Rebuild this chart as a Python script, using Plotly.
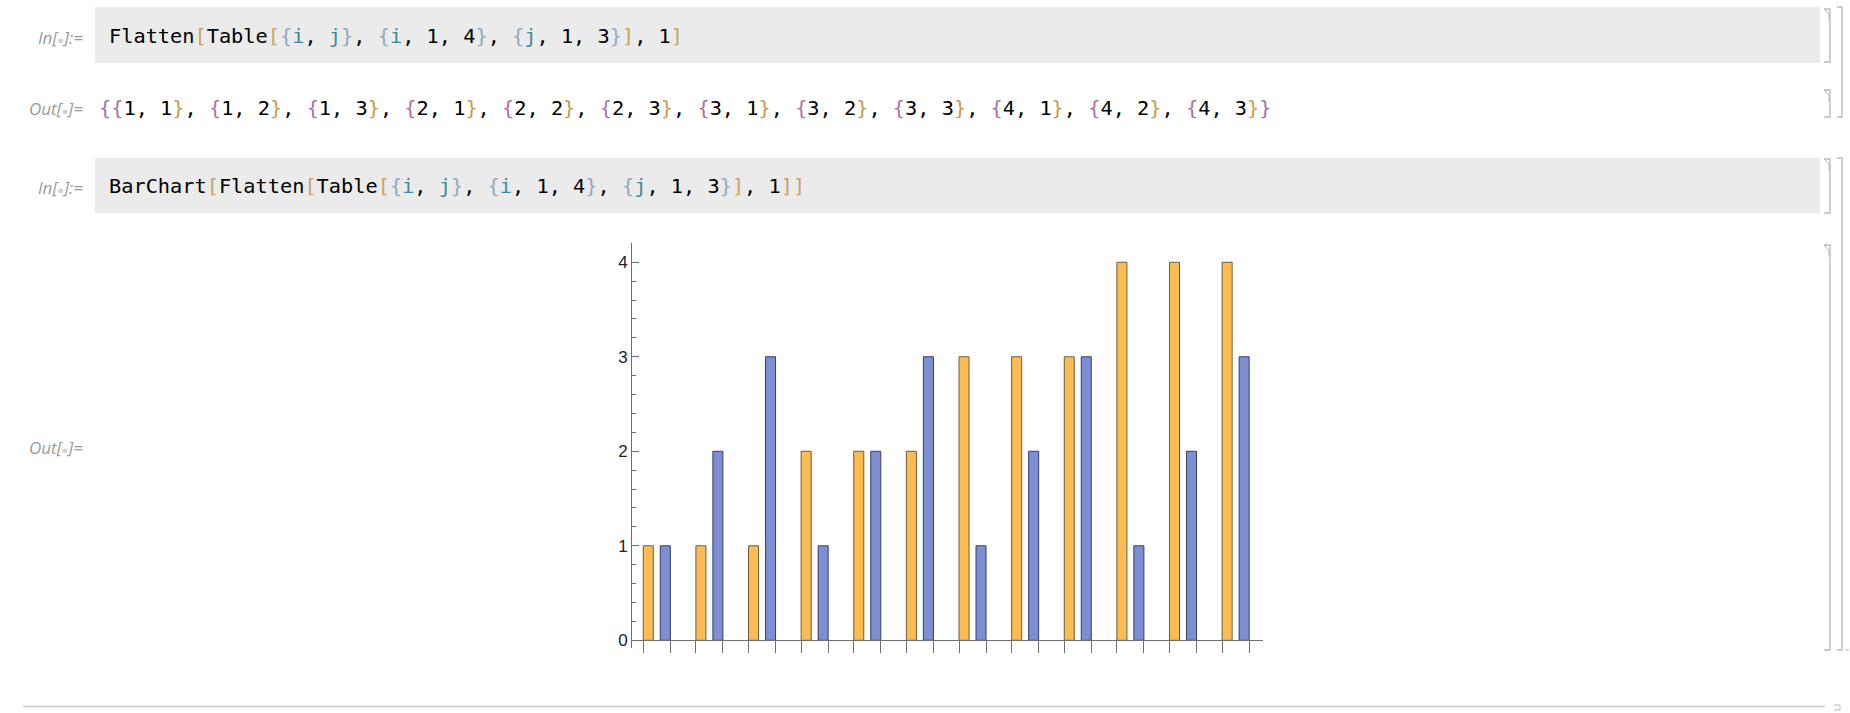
import plotly.graph_objects as go

# ---------------- data ----------------
groups = list(range(1, 13))
i_vals = [1, 1, 1, 2, 2, 2, 3, 3, 3, 4, 4, 4]
j_vals = [1, 2, 3, 1, 2, 3, 1, 2, 3, 1, 2, 3]
y_tick_vals = [0, 1, 2, 3, 4]
y_tick_text = ["0", "1", "2", "3", "4"]

# ---------------- style ----------------
W, H = 1850, 713
L, R, T, B = 631, 1850 - 1263, 243, 713 - 648
PW, PH = W - L - R, H - T - B

ORANGE = "rgb(252,188,84)"
ORANGE_EDGE = "rgb(112,92,58)"
BLUE = "rgb(126,142,210)"
BLUE_EDGE = "rgb(52,62,112)"
AXIS = "#6e6e6e"

BARGAP = 0.354
BARGROUPGAP = 0.41

slot = (1 - BARGAP) / 2
half_span = slot * 2 / 2 - slot * BARGROUPGAP / 2
x_ticks = []
for g in groups:
    x_ticks += [g - half_span, g + half_span]

y_lo, y_hi = -0.0815, 4.204
x_axis_pos = (0 - y_lo) / (y_hi - y_lo)


def px(x):
    return (x - L) / PW


def py(y):
    return (H - B - y) / PH


fig = go.Figure()
fig.add_trace(go.Bar(x=groups, y=i_vals, marker=dict(color=ORANGE, line=dict(color=ORANGE_EDGE, width=1)),
                     hoverinfo="skip", showlegend=False))
fig.add_trace(go.Bar(x=groups, y=j_vals, marker=dict(color=BLUE, line=dict(color=BLUE_EDGE, width=1)),
                     hoverinfo="skip", showlegend=False))

shapes = []
# gray input cell backgrounds
for (y0, y1) in [(7, 63), (158, 213)]:
    shapes.append(dict(type="rect", xref="paper", yref="paper", x0=px(95), x1=px(1820), y0=py(y1), y1=py(y0),
                       fillcolor="#ebebeb", line=dict(width=0), layer="below"))

BR = "#b9b9b9"


def bracket(x, y0, y1, serif, flag=False):
    path = f"M {px(x - serif)},{py(y0)} L {px(x)},{py(y0)} L {px(x)},{py(y1)} L {px(x - serif)},{py(y1)}"
    shapes.append(dict(type="path", xref="paper", yref="paper", path=path, line=dict(color=BR, width=1.3)))
    if flag:
        p2 = f"M {px(x - serif)},{py(y0)} L {px(x - 1)},{py(y0 + 5)} L {px(x - 1)},{py(y0 + 12)}"
        shapes.append(dict(type="path", xref="paper", yref="paper", path=p2, line=dict(color=BR, width=1)))


bracket(1830, 9, 62, 6, True)
bracket(1830, 90, 117, 6, True)
bracket(1842, 7, 117, 5)
bracket(1830, 159, 213, 6, True)
bracket(1830, 245, 650, 6, True)
bracket(1842, 158, 650, 5)
shapes.append(dict(type="line", xref="paper", yref="paper", x0=px(1845), x1=px(1849), y0=py(650), y1=py(650),
                   line=dict(color=BR, width=1)))
# bottom separator line
shapes.append(dict(type="line", xref="paper", yref="paper", x0=px(23), x1=px(1825), y0=py(706.5), y1=py(706.5),
                   line=dict(color="#c4c4c4", width=1.5)))
shapes.append(dict(type="path", xref="paper", yref="paper",
                   path=f"M {px(1834)},{py(705)} L {px(1840)},{py(705)} L {px(1840)},{py(710)} L {px(1834)},{py(710)}",
                   line=dict(color=BR, width=1)))


def span(t, c):
    return f"<span style='color:{c}'>{t}</span>"


BRK = "#c9a366"
BRC = "#8fa9c0"
VAR = "#3d8a9b"
LABEL = "#9a9a9a"
DOT = span("<span style='font-size:11px'>●</span>", "#d0d0d0")


def lab(kind):
    return f"<i>{kind}[{DOT}]{':=' if kind == 'In' else '='}</i>"


def brace_list(inner):
    return span("{", BRC) + inner + span("}", BRC)


code1 = ("Flatten" + span("[", BRK) + "Table" + span("[", BRK)
         + brace_list(span("i", VAR) + ", " + span("j", VAR)) + ", "
         + brace_list(span("i", VAR) + ", 1, 4") + ", "
         + brace_list(span("j", VAR) + ", 1, 3") + span("]", BRK) + ", 1" + span("]", BRK))
code2 = "BarChart" + span("[", BRK) + code1 + span("]", BRK)

OUTER = "#a070a8"
OPEN = "#b0709a"
CLOSE = "#c99a45"
pairs = [span("{", OPEN) + f"{a}, {b}" + span("}", CLOSE) for a, b in zip(i_vals, j_vals)]
out1 = span("{", OUTER) + ", ".join(pairs) + span("}", OUTER)

MONO = dict(family="DejaVu Sans Mono, Liberation Mono, monospace", size=20.3, color="#000000")
SANS = dict(family="Open Sans, Noto Sans, sans-serif", size=17, color=LABEL)

annotations = []


def text(x, y, t, font, anchor="left"):
    annotations.append(dict(x=px(x), y=py(y), xref="paper", yref="paper", text=t, showarrow=False,
                            xanchor=anchor, yanchor="middle", font=font, align=anchor))


text(85, 37, lab("In"), SANS, "right")
text(107, 36, code1, MONO)
text(85, 108, lab("Out"), SANS, "right")
text(97, 108, out1, MONO)
text(85, 187, lab("In"), SANS, "right")
text(107, 186, code2, MONO)
text(85, 447, lab("Out"), SANS, "right")

fig.update_layout(
    width=W, height=H,
    margin=dict(l=L, r=R, t=T, b=B, pad=0),
    paper_bgcolor="white", plot_bgcolor="white",
    barmode="group", bargap=BARGAP, bargroupgap=BARGROUPGAP,
    shapes=shapes, annotations=annotations,
    xaxis=dict(range=[0.51, 12.52], showgrid=False, zeroline=False, showline=True, linecolor=AXIS, linewidth=1,
               ticks="outside", ticklen=12, tickcolor=AXIS, tickwidth=1, tickmode="array", tickvals=x_ticks,
               showticklabels=False, anchor="free", position=x_axis_pos, fixedrange=True),
    yaxis=dict(range=[y_lo, y_hi], showgrid=False, zeroline=False, showline=True, linecolor=AXIS, linewidth=1,
               ticks="inside", ticklen=7, tickcolor=AXIS, tickwidth=1, tickmode="array", tickvals=y_tick_vals,
               ticktext=y_tick_text, tickfont=dict(family="Liberation Sans, Arial, sans-serif", size=17,
                                                   color="#222222"),
               minor=dict(ticks="inside", ticklen=4, tickcolor=AXIS, tickmode="linear", tick0=0, dtick=0.2,
                          showgrid=False),
               anchor="free", position=0, fixedrange=True),
)

fig.write_html("out.html", config={"displayModeBar": False},
               post_script="document.body.style.margin='0';document.body.style.overflow='hidden';")
